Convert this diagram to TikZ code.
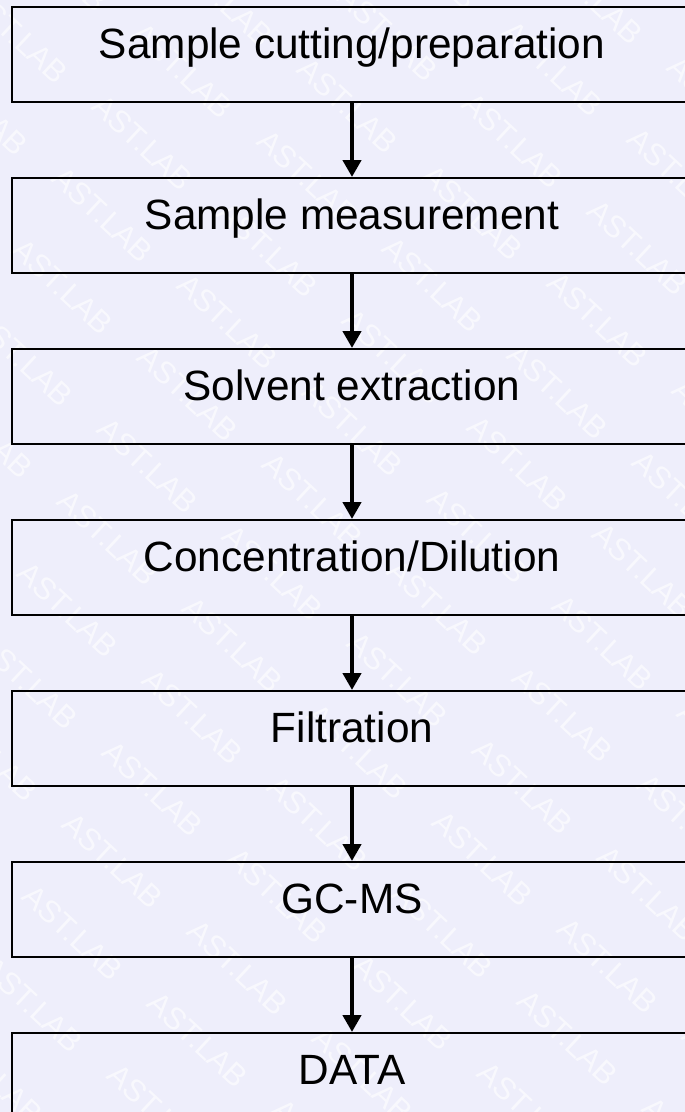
\documentclass[tikz,border=0pt]{standalone}
\usepackage{fontspec}
\setmainfont{Liberation Sans}
\usetikzlibrary{positioning,arrows.meta}
\definecolor{lavender}{RGB}{238,238,251}

\begin{document}
\begin{tikzpicture}[x=1bp, y=-1bp, node distance=74bp,
    proc/.style={draw, rectangle, line width=2bp, inner sep=0pt, minimum width=680bp,
        text height=51bp, text depth=44bp, font=\fontsize{42.5}{50}\selectfont},
    flow/.style={-{Triangle[width=18bp,length=17bp]}, line width=4.5bp},
    wm/.style={white, opacity=0.6, rotate=-43, font=\fontsize{31}{34}\selectfont}]
    \fill[lavender] (0,0) rectangle (685,1112);
    \useasboundingbox (0,0) rectangle (685,1112);
    \clip (0,0) rectangle (685,1112);

    % watermark
    \foreach \i in {-2,...,7}
        \foreach \j in {-3,...,16}
            \node[wm] (wm-\i-\j) at ({143+165*\i-40*\j},{143+35*\i+72*\j}) {AST.LAB};

    \node [proc] (SC) at (352,54.5) {Sample cutting/preparation};
    \node [proc, below=of SC] (SM) {Sample measurement};
    \node [proc, below=of SM] (SE) {Solvent extraction};
    \node [proc, below=of SE] (CD) {Concentration/Dilution};
    \node [proc, below=of CD] (FI) {Filtration};
    \node [proc, below=of FI] (GC) {GC-MS};
    \node [proc, below=of GC] (DA) {DATA};

    \draw [flow] (SC) -- (SM);
    \draw [flow] (SM) -- (SE);
    \draw [flow] (SE) -- (CD);
    \draw [flow] (CD) -- (FI);
    \draw [flow] (FI) -- (GC);
    \draw [flow] (GC) -- (DA);

\end{tikzpicture}
\end{document}
